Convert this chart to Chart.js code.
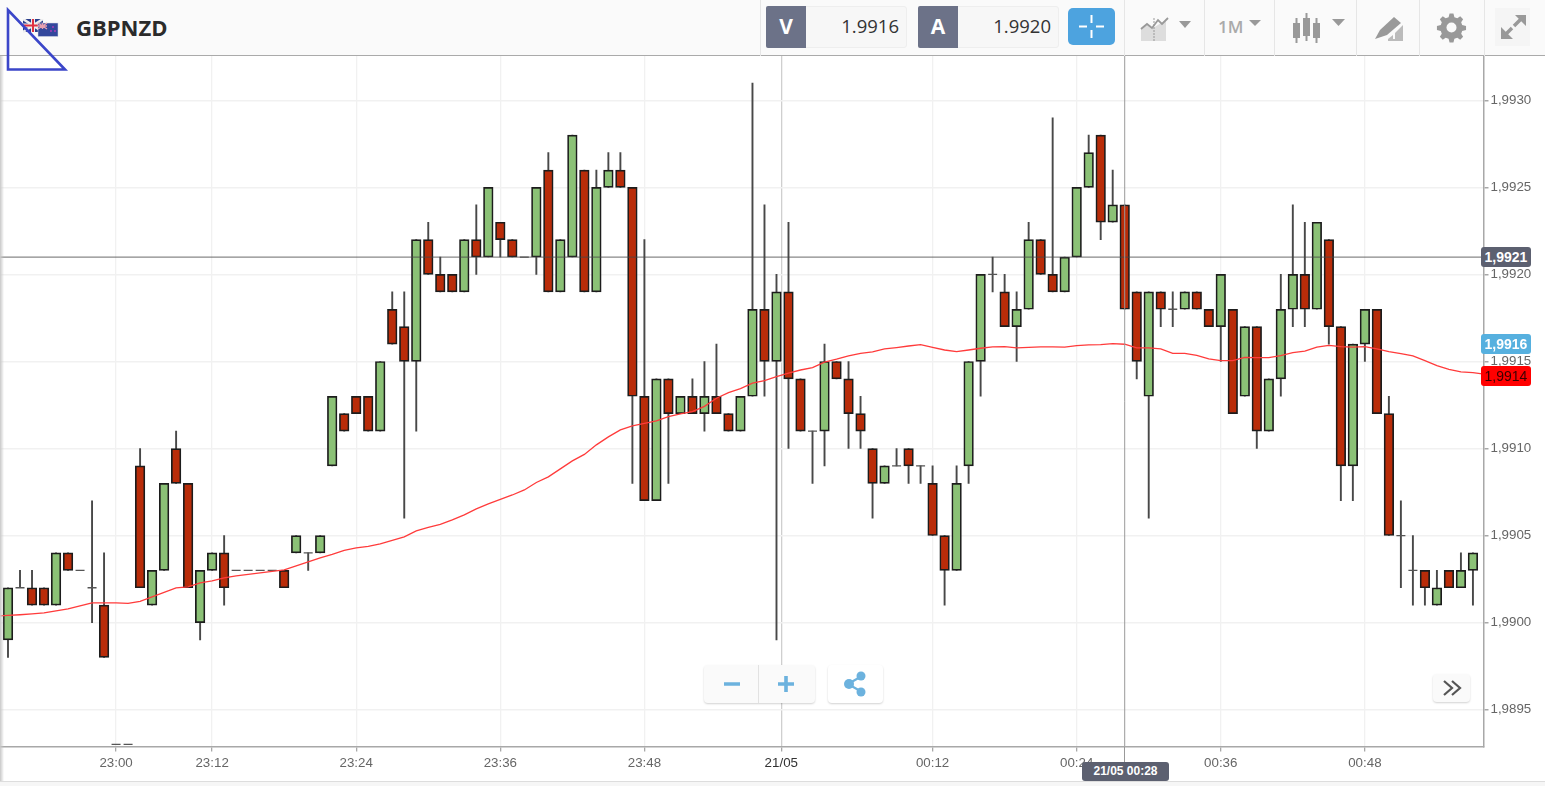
<!DOCTYPE html>
<html><head><meta charset="utf-8">
<script src="https://cdn.jsdelivr.net/npm/chart.js@4/dist/chart.umd.js"></script>
<style>
html,body{margin:0;padding:0;background:#fff;overflow:hidden;width:1545px;height:786px}
#wrap{position:relative;width:1545px;height:786px}
canvas{position:absolute;left:0;top:0}
.a{position:absolute;box-sizing:border-box}
.hdr{left:0;top:0;width:1545px;height:56px;background:#fafafa;border-bottom:1px solid #aaa}
.sep{width:1px;top:0;height:56px;background:#e6e6e6}
.t{font-family:"Open Sans",sans-serif}
.badge{left:1481px;width:50px;height:20px;border-radius:3px;font:bold 14px/20px "Liberation Sans",sans-serif;text-align:center;color:#fff}
.btn{background:#fafafa;border-radius:4px;box-shadow:0 1px 2px rgba(0,0,0,.18)}
</style></head><body>
<div id="wrap">
<canvas id="c" width="1545" height="786"></canvas>
<div class="a" style="left:0;top:56px;width:4px;height:726px;background:linear-gradient(to right,#c8c8c8,rgba(255,255,255,0))"></div>
<div class="a" style="left:0;top:781px;width:1545px;height:5px;background:#f6f6f6;border-top:1px solid #ddd"></div>
<div class="a hdr"></div>
<svg class="a" style="left:23px;top:19px" width="36" height="18" viewBox="0 0 36 18">
 <rect x="0" y="0" width="20" height="13" fill="#2b3f8c"/><path d="M0 0L20 13M20 0L0 13" stroke="#eee" stroke-width="2.5"/><path d="M10 0V13M0 6.5H20" stroke="#eee" stroke-width="4"/><path d="M10 0V13M0 6.5H20" stroke="#e03040" stroke-width="2"/>
 <rect x="15" y="4" width="20" height="13.5" fill="#33479c" stroke="#d8dbe8" stroke-width=".5"/><path d="M15 4L24 10M24 4L15 10M19.5 4V10M15 7H24" stroke="#e8a0b0" stroke-width="1.4"/>
 <circle cx="30" cy="8" r=".8" fill="#f3c"/><circle cx="28" cy="12" r=".8" fill="#f3c"/><circle cx="32" cy="12" r=".8" fill="#f3c"/>
</svg>
<div class="a t" style="left:76px;top:12px;font-size:22px;font-weight:700;line-height:30px;color:#2b2b2b">GBPNZD</div>
<div class="a sep" style="left:760px"></div>
<div class="a" style="left:766px;top:6px;width:141px;height:42px;background:#f7f7f7;border:1px solid #eee;border-radius:3px"></div>
<div class="a t" style="left:766px;top:6px;width:40px;height:42px;background:#6c7288;color:#fff;font-weight:700;font-size:21px;line-height:41px;text-align:center;border-radius:2px 0 0 2px">V</div>
<div class="a t" style="left:806px;top:6px;width:93px;height:42px;text-align:right;font-size:18.5px;line-height:40px;color:#333">1.9916</div>
<div class="a" style="left:918px;top:6px;width:141px;height:42px;background:#f7f7f7;border:1px solid #eee;border-radius:3px"></div>
<div class="a t" style="left:918px;top:6px;width:40px;height:42px;background:#6c7288;color:#fff;font-weight:700;font-size:21px;line-height:41px;text-align:center;border-radius:2px 0 0 2px">A</div>
<div class="a t" style="left:958px;top:6px;width:93px;height:42px;text-align:right;font-size:18.5px;line-height:40px;color:#333">1.9920</div>
<svg class="a" style="left:1068px;top:8px" width="47" height="37"><rect width="47" height="37" rx="5" fill="#4da3df"/><path d="M23.5 7V15M23.5 22V30M11 18.5H19M28 18.5H36" stroke="#fff" stroke-width="2"/></svg>
<div class="a sep" style="left:1124px"></div><div class="a sep" style="left:1204px"></div><div class="a sep" style="left:1274px"></div><div class="a sep" style="left:1356px"></div><div class="a sep" style="left:1419px"></div><div class="a sep" style="left:1484px"></div>
<svg class="a" style="left:1138px;top:14px" width="56" height="30"><path d="M3 27V14L9 10L15 15V27Z" fill="#ddd"/><path d="M15 27V14L28 6V27Z" fill="#ddd"/><path d="M3 15L9 10L14 14L20 6L24 10L30 4" fill="none" stroke="#999" stroke-width="1.8"/><path d="M16 4V28" stroke="#999" stroke-width="1" stroke-dasharray="2 1"/><path d="M41 7H53L47 14Z" fill="#999"/></svg>
<div class="a t" style="left:1218px;top:14px;font-size:17px;font-weight:600;line-height:26px;color:#aaa">1M</div>
<svg class="a" style="left:1248px;top:20px" width="14" height="8"><path d="M1 0H13L7 6Z" fill="#999"/></svg>
<svg class="a" style="left:1290px;top:12px" width="56" height="34"><g fill="#999"><rect x="3" y="11" width="7" height="15"/><rect x="13" y="6" width="7" height="18"/><rect x="23" y="11" width="7" height="15"/></g><path d="M6.5 6V31M16.5 1V29M26.5 6V31" stroke="#999" stroke-width="2"/><path d="M42 7H55L48.5 14Z" fill="#999"/></svg>
<svg class="a" style="left:1373px;top:15px" width="32" height="28"><path d="M2 24L7 15L21 2L28 8L14 20Z" fill="#999"/><path d="M4 26H30V10L22 18V24H20V20L15 24V26" fill="#bbb"/></svg>
<svg class="a" style="left:1436px;top:12px" width="32" height="32" viewBox="0 0 32 32"><path d="M16 2l3 0 1 4 3 1 3-2 3 3-2 3 1 3 4 1v4l-4 1-1 3 2 3-3 3-3-2-3 1-1 4h-4l-1-4-3-1-3 2-3-3 2-3-1-3-4-1v-4l4-1 1-3-2-3 3-3 3 2 3-1 1-4z" fill="#999" transform="translate(-1,-.5) scale(.97)"/><circle cx="15.5" cy="15.5" r="5" fill="#fafafa"/></svg>
<div class="a" style="left:1495px;top:8px;width:35px;height:38px;background:#f5f5f5"></div>
<svg class="a" style="left:1498px;top:12px" width="30" height="30"><path d="M14 16L6 24M16 14L25 5" stroke="#999" stroke-width="3.5"/><path d="M3 15V27H15Z M17 3H28V14Z" fill="#999"/></svg>
<svg class="a" style="left:0;top:0" width="80" height="80"><path d="M8 10V69.5H65Z" fill="none" stroke="#3b46c9" stroke-width="2.6"/></svg>
<div class="a badge" style="top:247px;background:#5c6070">1,9921</div>
<div class="a badge" style="top:334px;background:#56b0df">1,9916</div>
<div class="a badge" style="top:366px;background:#ff0000;color:#3a0000;font-weight:normal">1,9914</div>
<div class="a" style="left:1124px;top:747px;width:1px;height:16px;background:#999"></div>
<div class="a" style="left:1082px;top:762px;width:87px;height:19px;background:#5c6070;border-radius:3px;color:#fff;font:bold 12px/19px 'Liberation Sans',sans-serif;text-align:center">21/05 00:28</div>
<div class="a btn" style="left:704px;top:665px;width:111px;height:38px"></div>
<div class="a" style="left:758px;top:665px;width:1px;height:38px;background:#e2e2e2"></div>
<svg class="a" style="left:704px;top:665px" width="111" height="38"><path d="M20 19H36M74 19H90M82 11V27" stroke="#6cb2de" stroke-width="3.6"/></svg>
<div class="a btn" style="left:828px;top:665px;width:55px;height:38px;background:#fff"></div>
<svg class="a" style="left:828px;top:665px" width="55" height="38"><path d="M20 19L34 11M20 19L34 27" stroke="#6cb2de" stroke-width="2.2"/><circle cx="21" cy="19" r="5" fill="#6cb2de"/><circle cx="33" cy="11" r="4.5" fill="#6cb2de"/><circle cx="33" cy="27" r="4.5" fill="#6cb2de"/></svg>
<div class="a btn" style="left:1433px;top:674px;width:37px;height:28px"></div>
<svg class="a" style="left:1433px;top:674px" width="37" height="28"><path d="M11 7L19 14L11 21M19 7L27 14L19 21" fill="none" stroke="#555" stroke-width="2.2"/></svg>
</div>
<script>
const opens=[1.9899,1.9902,1.9902,1.9902,1.9901,1.9904,1.9903,1.9902,1.9901,1.9893,1.9893,1.9909,1.9901,1.9903,1.9910,1.9908,1.9900,1.9903,1.9904,1.9903,1.9903,1.9903,1.9903,1.9903,1.9904,1.9904,1.9904,1.9909,1.9912,1.9913,1.9913,1.9911,1.9918,1.9917,1.9915,1.9922,1.9920,1.9920,1.9919,1.9922,1.9921,1.9923,1.9922,1.9921,1.9921,1.9926,1.9919,1.9921,1.9926,1.9919,1.9925,1.9926,1.9925,1.9913,1.9907,1.9914,1.9912,1.9913,1.9912,1.9913,1.9912,1.9911,1.9913,1.9918,1.9915,1.9919,1.9914,1.9911,1.9911,1.9915,1.9914,1.9912,1.9910,1.9908,1.9909,1.9910,1.9909,1.9908,1.9905,1.9903,1.9909,1.9915,1.9920,1.9919,1.9917,1.9918,1.9922,1.9920,1.9919,1.9921,1.9925,1.9928,1.9923,1.9924,1.9919,1.9913,1.9919,1.9918,1.9918,1.9919,1.9918,1.9917,1.9918,1.9913,1.9917,1.9911,1.9914,1.9918,1.9920,1.9918,1.9922,1.9917,1.9909,1.9916,1.9918,1.9912,1.9905,1.9903,1.9903,1.9901,1.9903,1.9902,1.9903];
const closes=[1.9902,1.9902,1.9901,1.9901,1.9904,1.9903,1.9903,1.9902,1.9898,1.9893,1.9893,1.9902,1.9903,1.9908,1.9908,1.9902,1.9903,1.9904,1.9902,1.9903,1.9903,1.9903,1.9903,1.9902,1.9905,1.9904,1.9905,1.9913,1.9911,1.9912,1.9911,1.9915,1.9916,1.9915,1.9922,1.9920,1.9919,1.9919,1.9922,1.9921,1.9925,1.9922,1.9921,1.9921,1.9925,1.9919,1.9922,1.9928,1.9919,1.9925,1.9926,1.9925,1.9913,1.9907,1.9914,1.9912,1.9913,1.9912,1.9913,1.9912,1.9911,1.9913,1.9918,1.9915,1.9919,1.9914,1.9911,1.9911,1.9915,1.9914,1.9912,1.9911,1.9908,1.9909,1.9909,1.9909,1.9909,1.9905,1.9903,1.9908,1.9915,1.9920,1.9920,1.9917,1.9918,1.9922,1.9920,1.9919,1.9921,1.9925,1.9927,1.9923,1.9924,1.9918,1.9915,1.9919,1.9918,1.9918,1.9919,1.9918,1.9917,1.9920,1.9912,1.9917,1.9911,1.9914,1.9918,1.9920,1.9918,1.9923,1.9917,1.9909,1.9916,1.9918,1.9912,1.9905,1.9905,1.9903,1.9902,1.9902,1.9902,1.9903,1.9904];
const highs=[1.9902,1.9903,1.9903,1.9902,1.9904,1.9904,1.9903,1.9907,1.9904,1.9893,1.9893,1.9910,1.9903,1.9908,1.9911,1.9908,1.9903,1.9904,1.9905,1.9903,1.9903,1.9903,1.9903,1.9903,1.9905,1.9904,1.9905,1.9913,1.9912,1.9913,1.9913,1.9915,1.9919,1.9919,1.9922,1.9923,1.9921,1.9920,1.9922,1.9924,1.9925,1.9923,1.9922,1.9921,1.9925,1.9927,1.9922,1.9928,1.9926,1.9926,1.9927,1.9927,1.9925,1.9922,1.9914,1.9914,1.9913,1.9914,1.9915,1.9916,1.9912,1.9913,1.9931,1.9924,1.9920,1.9923,1.9914,1.9911,1.9916,1.9915,1.9915,1.9913,1.9910,1.9909,1.9910,1.9910,1.9909,1.9909,1.9905,1.9909,1.9915,1.9920,1.9921,1.9920,1.9919,1.9923,1.9922,1.9929,1.9921,1.9925,1.9928,1.9928,1.9926,1.9924,1.9919,1.9919,1.9919,1.9919,1.9919,1.9919,1.9918,1.9920,1.9918,1.9917,1.9917,1.9914,1.9920,1.9924,1.9923,1.9923,1.9922,1.9917,1.9916,1.9918,1.9918,1.9913,1.9907,1.9905,1.9903,1.9903,1.9903,1.9904,1.9904];
const lows=[1.9898,1.9902,1.9901,1.9901,1.9901,1.9903,1.9903,1.9900,1.9898,1.9893,1.9893,1.9902,1.9901,1.9903,1.9908,1.9902,1.9899,1.9903,1.9901,1.9903,1.9903,1.9903,1.9903,1.9902,1.9904,1.9903,1.9904,1.9909,1.9911,1.9912,1.9911,1.9911,1.9916,1.9906,1.9911,1.9920,1.9919,1.9919,1.9919,1.9920,1.9921,1.9921,1.9921,1.9921,1.9920,1.9919,1.9919,1.9921,1.9919,1.9919,1.9925,1.9925,1.9908,1.9907,1.9907,1.9908,1.9912,1.9912,1.9911,1.9912,1.9911,1.9911,1.9913,1.9913,1.9899,1.9910,1.9911,1.9908,1.9909,1.9914,1.9910,1.9910,1.9906,1.9908,1.9909,1.9908,1.9908,1.9905,1.9901,1.9903,1.9908,1.9913,1.9919,1.9917,1.9915,1.9918,1.9920,1.9919,1.9919,1.9921,1.9925,1.9922,1.9923,1.9918,1.9914,1.9906,1.9917,1.9917,1.9918,1.9918,1.9917,1.9915,1.9912,1.9913,1.9910,1.9911,1.9913,1.9917,1.9917,1.9918,1.9916,1.9907,1.9907,1.9915,1.9912,1.9905,1.9902,1.9901,1.9901,1.9901,1.9902,1.9902,1.9901];
const movingAverage=[1.990037,1.990041,1.990045,1.990050,1.990056,1.990067,1.990079,1.990096,1.990113,1.990113,1.990113,1.990110,1.990122,1.990148,1.990173,1.990199,1.990205,1.990228,1.990240,1.990257,1.990268,1.990277,1.990285,1.990294,1.990303,1.990326,1.990349,1.990372,1.990392,1.990415,1.990429,1.990438,1.990452,1.990472,1.990492,1.990527,1.990547,1.990564,1.990590,1.990619,1.990653,1.990682,1.990708,1.990733,1.990762,1.990805,1.990837,1.990883,1.990929,1.990966,1.991021,1.991067,1.991107,1.991130,1.991144,1.991159,1.991183,1.991199,1.991212,1.991242,1.991289,1.991321,1.991344,1.991375,1.991390,1.991413,1.991433,1.991451,1.991465,1.991496,1.991513,1.991532,1.991547,1.991555,1.991572,1.991580,1.991589,1.991597,1.991581,1.991566,1.991557,1.991566,1.991576,1.991584,1.991585,1.991578,1.991581,1.991584,1.991584,1.991582,1.991591,1.991595,1.991597,1.991603,1.991599,1.991578,1.991578,1.991572,1.991547,1.991547,1.991535,1.991515,1.991505,1.991505,1.991524,1.991522,1.991522,1.991534,1.991551,1.991559,1.991582,1.991593,1.991585,1.991582,1.991585,1.991572,1.991557,1.991545,1.991532,1.991505,1.991476,1.991455,1.991440,1.991436,1.991427];
const tickCandles=[9,17,29,41,53,64.4,77,89,101,113];
const timeLabels=["23:00","23:12","23:24","23:36","23:48","21/05","00:12","00:24","00:36","00:48"];
const priceTicks=[1.9895,1.9900,1.9905,1.9910,1.9915,1.9920,1.9925,1.9930];
const crosshairCandle=93, crosshairPrice=1.9921;

if(new Set([opens.length,closes.length,highs.length,lows.length]).size!==1||movingAverage.length!==opens.length+2) throw new Error("length "+[opens.length,closes.length,highs.length,lows.length,movingAverage.length]);

const xMin=-0.666, xMax=122.88, yMin=1.989288, yMax=1.993255;
const idx=opens.map((_,i)=>i);
const solid=idx.filter(i=>opens[i]!==closes[i]);
const up='#8bc176', down='#b92c09';

new Chart(document.getElementById('c'),{
  type:'bar',
  data:{datasets:[
    {type:'line',order:0,data:[{x:crosshairCandle,y:yMin},{x:crosshairCandle,y:yMax}],borderColor:'#9a9a9a',borderWidth:1,pointRadius:0},
    {type:'line',order:0,data:[{x:xMin,y:crosshairPrice},{x:xMax,y:crosshairPrice}],borderColor:'rgba(70,70,70,.65)',borderWidth:1.3,pointRadius:0},
    {type:'line',order:1,data:movingAverage.map((v,i)=>({x:i-1,y:v})),borderColor:'#ff3b3b',borderWidth:1.3,pointRadius:0,tension:0},
    {type:'scatter',order:2,data:idx.filter(i=>opens[i]===closes[i]).map(i=>({x:i,y:closes[i]})),pointStyle:'line',pointRadius:4.5,pointBorderColor:'#555',pointBorderWidth:1.3},
    {order:3,grouped:false,data:solid.map(i=>({x:i,y:[opens[i],closes[i]]})),barThickness:9.6,borderWidth:1.7,borderSkipped:false,borderColor:'#1c1c1c',
      backgroundColor:solid.map(i=>closes[i]>opens[i]?up:down)},
    {order:4,grouped:false,data:idx.filter(i=>highs[i]>lows[i]).map(i=>({x:i,y:[lows[i],highs[i]]})),barThickness:1.25,borderWidth:0,backgroundColor:'#484848'}
  ]},
  options:{
    responsive:false,animation:false,events:[],
    layout:{autoPadding:false,padding:{top:56,left:0,right:0,bottom:0}},
    plugins:{legend:{display:false},tooltip:{enabled:false},title:{display:false}},
    scales:{
      x:{type:'linear',min:xMin,max:xMax,offset:false,
        afterBuildTicks:s=>{s.ticks=tickCandles.map(v=>({value:v}));},
        afterFit:s=>{s.height=39.5;},
        border:{color:'#a8a8a8',width:1.5},
        grid:{offset:false,color:c=>c.index===5?'#cfcfcf':'#f1f1f1',lineWidth:1.3,tickColor:'#a8a8a8',tickLength:5,drawOnChartArea:true},
        ticks:{autoSkip:false,maxRotation:0,padding:4,color:c=>c.index===5?'#333':'#666',font:{family:'"Liberation Sans"',size:13.33},callback:(v,i)=>timeLabels[i]}},
      y:{type:'linear',position:'right',min:yMin,max:yMax,
        afterBuildTicks:s=>{s.ticks=priceTicks.map(v=>({value:v}));},
        afterFit:s=>{s.width=61.5;},
        border:{color:'#a8a8a8',width:1.5},
        grid:{offset:false,color:'#f1f1f1',lineWidth:1.5,tickColor:'#a8a8a8',tickLength:5},
        ticks:{autoSkip:false,padding:2,color:'#666',font:{family:'"Liberation Sans"',size:13.33},callback:v=>v.toFixed(4).replace('.',',')}}
    }
  }
});
</script>
</body></html>
